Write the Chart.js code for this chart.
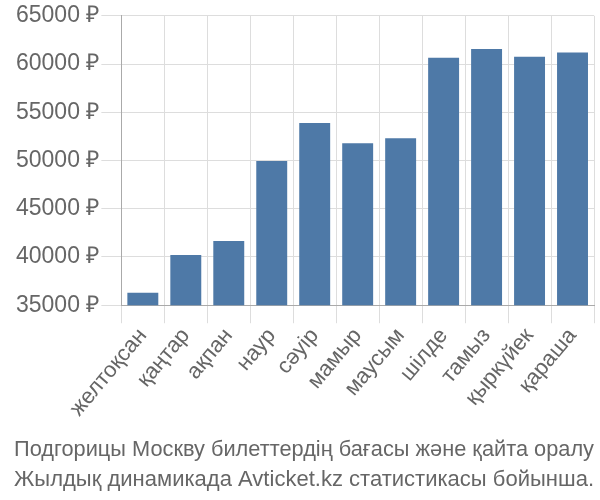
<!DOCTYPE html>
<html>
<head>
<meta charset="utf-8">
<script src="https://cdn.jsdelivr.net/npm/chart.js@4"></script>
<style>
  html, body { margin: 0; padding: 0; background: #fff; }
  #wrap { width: 600px; height: 500px; }
</style>
</head>
<body>
<div id="wrap"><canvas id="canvas" width="600" height="500"></canvas></div>
<script>
const months = ['желтоқсан', 'қаңтар', 'ақпан', 'наур', 'сәуір', 'мамыр', 'маусым', 'шілде', 'тамыз', 'қыркүйек', 'қараша'];
const prices = [36300, 40200, 41650, 49950, 53900, 51800, 52300, 60650, 61550, 60750, 61200];
const titleLines = ['Подгорицы Москву билеттердің бағасы және қайта оралу', 'Жылдық динамикада Avticket.kz статистикасы бойынша.'];

Chart.defaults.font.family = '"Liberation Sans", Arial, sans-serif';
Chart.defaults.color = '#666';

const ctx = document.getElementById('canvas');

new Chart(ctx, {
  type: 'bar',
  data: {
    labels: months,
    datasets: [{
      data: prices,
      backgroundColor: '#4e79a7',
      borderColor: '#4e79a7',
      borderWidth: 0
    }]
  },
  options: {
    responsive: false,
    animation: false,
    layout: { padding: { top: 6, right: 6, left: 14 } },
    scales: {
      x: {
        grid: { color: '#ddd', tickLength: 18, offset: true },
        border: { color: '#aaa' },
        ticks: { font: { size: 22 }, maxRotation: 50, minRotation: 50, padding: 0 }
      },
      y: {
        min: 35000,
        max: 65000,
        grid: { color: '#ddd', tickLength: 20 },
        border: { color: '#aaa' },
        ticks: {
          stepSize: 5000,
          font: { size: 23 },
          padding: 2,
          callback: v => v + ' ₽'
        }
      }
    },
    plugins: {
      legend: { display: false },
      tooltip: { enabled: false },
      title: {
        display: true,
        position: 'bottom',
        text: titleLines,
        font: { size: 22.5, weight: 'normal', lineHeight: 1.3 },
        color: '#666',
        padding: { top: 14, bottom: 6 }
      }
    }
  }
});
</script>
</body>
</html>
